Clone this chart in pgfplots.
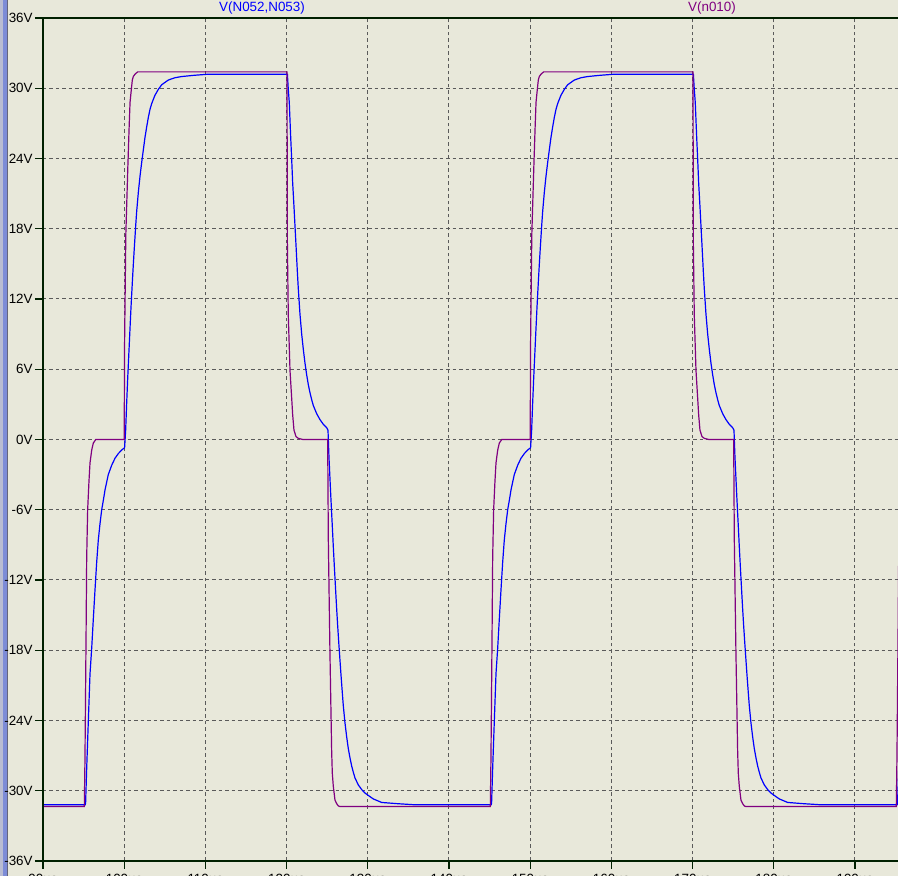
\documentclass[border=0pt]{standalone}
\usepackage{fontspec}
\setmainfont{Liberation Sans}
\usepackage{pgfplots}
\pgfplotsset{compat=1.18}
\usepackage{pgfplotstable}

\definecolor{bgcol}{RGB}{232,232,218}
\definecolor{axcol}{RGB}{0,32,0}
\definecolor{gridcol}{RGB}{90,90,90}
\definecolor{vblue}{RGB}{0,0,255}
\definecolor{vpurp}{RGB}{128,0,128}
\definecolor{edgeA}{RGB}{185,188,210}
\definecolor{edgeB}{RGB}{125,140,215}
\definecolor{edgeC}{RGB}{100,100,125}

% V(n010)
\pgfplotstableread{
t v
90 -31.35
95.09 -31.35
95.17 -27.2
95.30 -17.1
95.38 -10.1
95.50 -6.0
95.66 -3.6
95.79 -2.0
96.00 -0.9
96.20 -0.3
96.50 0
100.00 0
100.05 8.4
100.20 17.5
100.45 23.3
100.60 26.5
100.72 28.8
100.85 29.7
101.00 30.7
101.12 31.0
101.33 31.2
101.66 31.4
120.05 31.4
120.10 16.5
120.21 10.6
120.42 5.9
120.63 3.5
120.75 2.1
120.91 0.8
121.16 0.25
121.44 0.1
122.00 0
125.06 0
125.14 -8.6
125.34 -18.2
125.47 -23.4
125.55 -26.6
125.63 -28.5
125.75 -29.6
125.96 -30.8
126.17 -31.1
126.37 -31.3
126.58 -31.35
145.09 -31.35
145.17 -27.2
145.30 -17.1
145.38 -10.1
145.50 -6.0
145.66 -3.6
145.79 -2.0
146.00 -0.9
146.20 -0.3
146.50 0
150.00 0
150.05 8.4
150.20 17.5
150.45 23.3
150.60 26.5
150.72 28.8
150.85 29.7
151.00 30.7
151.12 31.0
151.33 31.2
151.66 31.4
170.05 31.4
170.10 16.5
170.21 10.6
170.42 5.9
170.63 3.5
170.75 2.1
170.91 0.8
171.16 0.25
171.44 0.1
172.00 0
175.06 0
175.14 -8.6
175.34 -18.2
175.47 -23.4
175.55 -26.6
175.63 -28.5
175.75 -29.6
175.96 -30.8
176.17 -31.1
176.37 -31.3
176.58 -31.35
195.09 -31.35
195.17 -27.2
195.30 -17.1
195.38 -10.1
}\nten

% V(N052,N053)
\pgfplotstableread{
t v
90 -31.2
95.20 -31.2
95.25 -31.0
95.38 -28.1
95.58 -24.1
95.79 -20.0
96.00 -17.8
96.20 -15.3
96.40 -12.9
96.61 -10.5
96.81 -8.6
97.02 -7.2
97.23 -6.0
97.43 -5.2
97.64 -4.3
98.04 -3.0
98.46 -2.2
98.87 -1.6
99.28 -1.2
99.69 -0.9
100.05 -0.7
100.18 0.8
100.31 3.2
100.43 5.2
100.59 7.6
100.71 9.4
100.84 11.3
101.00 13.4
101.12 14.9
101.24 16.3
101.42 18.3
101.54 19.5
101.74 21.1
101.95 22.5
102.16 23.7
102.35 24.7
102.56 25.8
102.77 26.7
102.97 27.5
103.18 28.2
103.39 28.7
103.79 29.4
104.20 29.9
104.62 30.3
105.43 30.7
106.26 30.9
107.08 31.0
108.51 31.1
110.36 31.2
120.10 31.2
120.21 29.9
120.33 28.8
120.50 25.9
120.63 23.9
120.75 21.9
120.91 19.9
121.03 18.3
121.16 16.6
121.32 14.4
121.44 12.9
121.65 10.7
121.86 9.0
122.06 7.7
122.27 6.5
122.48 5.5
122.67 4.7
122.88 4.0
123.09 3.4
123.29 2.9
123.71 2.2
124.11 1.7
124.52 1.3
124.94 1.0
125.10 0.8
125.14 0
125.22 -1.5
125.34 -3.3
125.47 -5.2
125.63 -7.4
125.75 -9.1
125.87 -10.7
126.05 -13.0
126.17 -14.5
126.29 -15.9
126.45 -17.6
126.58 -18.9
126.70 -20.1
126.86 -21.6
126.98 -22.7
127.19 -24.2
127.40 -25.4
127.60 -26.4
127.81 -27.2
128.02 -27.9
128.21 -28.4
128.42 -28.9
128.83 -29.5
129.25 -29.9
129.66 -30.2
130.06 -30.4
130.68 -30.7
131.71 -31.0
133.56 -31.1
135.81 -31.2
145.20 -31.2
145.25 -31.0
145.38 -28.1
145.58 -24.1
145.79 -20.0
146.00 -17.8
146.20 -15.3
146.40 -12.9
146.61 -10.5
146.81 -8.6
147.02 -7.2
147.23 -6.0
147.43 -5.2
147.64 -4.3
148.04 -3.0
148.46 -2.2
148.87 -1.6
149.28 -1.2
149.69 -0.9
150.05 -0.7
150.18 0.8
150.31 3.2
150.43 5.2
150.59 7.6
150.71 9.4
150.84 11.3
151.00 13.4
151.12 14.9
151.24 16.3
151.42 18.3
151.54 19.5
151.74 21.1
151.95 22.5
152.16 23.7
152.35 24.7
152.56 25.8
152.77 26.7
152.97 27.5
153.18 28.2
153.39 28.7
153.79 29.4
154.20 29.9
154.62 30.3
155.43 30.7
156.26 30.9
157.08 31.0
158.51 31.1
160.36 31.2
170.10 31.2
170.21 29.9
170.33 28.8
170.50 25.9
170.63 23.9
170.75 21.9
170.91 19.9
171.03 18.3
171.16 16.6
171.32 14.4
171.44 12.9
171.65 10.7
171.86 9.0
172.06 7.7
172.27 6.5
172.48 5.5
172.67 4.7
172.88 4.0
173.09 3.4
173.29 2.9
173.71 2.2
174.11 1.7
174.52 1.3
174.94 1.0
175.10 0.8
175.14 0
175.22 -1.5
175.34 -3.3
175.47 -5.2
175.63 -7.4
175.75 -9.1
175.87 -10.7
176.05 -13.0
176.17 -14.5
176.29 -15.9
176.45 -17.6
176.58 -18.9
176.70 -20.1
176.86 -21.6
176.98 -22.7
177.19 -24.2
177.40 -25.4
177.60 -26.4
177.81 -27.2
178.02 -27.9
178.21 -28.4
178.42 -28.9
178.83 -29.5
179.25 -29.9
179.66 -30.2
180.06 -30.4
180.68 -30.7
181.71 -31.0
183.56 -31.1
185.81 -31.2
195.20 -31.2
195.25 -31.0
195.38 -28.1
}\nfiftytwo

\begin{document}
\begin{tikzpicture}
% background and window edge
\fill[bgcol] (-21.5pt,-7.5pt) rectangle (427.5pt,430.5pt);
\fill[edgeA] (-21.5pt,-7.5pt) rectangle (-20.2pt,430.5pt);
\fill[edgeB] (-20.2pt,-7.5pt) rectangle (-18.2pt,430.5pt);
\draw[edgeC, line width=0.5pt] (-18pt,-7.5pt) -- (-18pt,430.5pt);

\begin{axis}[
    scale only axis,
    width=427.5pt, height=421.5pt,
    xmin=90, xmax=195.3,
    ymin=-36, ymax=36,
    axis line style={draw=none},
    xtick={90,100,...,190},
    xticklabels={90µs,100µs,110µs,120µs,130µs,140µs,150µs,160µs,170µs,180µs,190µs},
    ytick={-36,-30,...,36},
    yticklabels={-36V,-30V,-24V,-18V,-12V,-6V,0V,6V,12V,18V,24V,30V,36V},
    xtick pos=bottom, ytick pos=left,
    tick align=outside,
    major tick length=4pt,
    tick style={axcol, line width=0.6pt},
    grid=major,
    major grid style={gridcol, line width=0.5pt, dash pattern=on 1.75pt off 1.5pt},
    tick label style={font=\fontsize{6.7}{7}\selectfont, text=black},
    yticklabel style={anchor=east, inner sep=0pt, xshift=-1pt},
    xticklabel style={anchor=north, inner sep=0pt, yshift=-2.5pt},
  ]
  \addplot[vblue, line width=0.6pt] table[x=t, y=v] {\nfiftytwo};
  \addplot[vpurp, line width=0.6pt] table[x=t, y=v] {\nten};
\end{axis}

% frame: left, top and bottom lines
\draw[axcol, line width=0.6pt] (0,421.5pt) -- (0,0) -- (427.5pt,0);
\draw[axcol, line width=0.6pt] (0,421.5pt) -- (427.5pt,421.5pt);

% trace names
\node[vblue, font=\fontsize{6.7}{7}\selectfont] at (109.5pt,426.5pt) {V(N052,N053)};
\node[vpurp, font=\fontsize{6.7}{7}\selectfont] at (334.5pt,426.5pt) {V(n010)};

\pgfresetboundingbox
\useasboundingbox (-21.5pt,-7.5pt) rectangle (427.5pt,430.5pt);
\end{tikzpicture}
\end{document}
